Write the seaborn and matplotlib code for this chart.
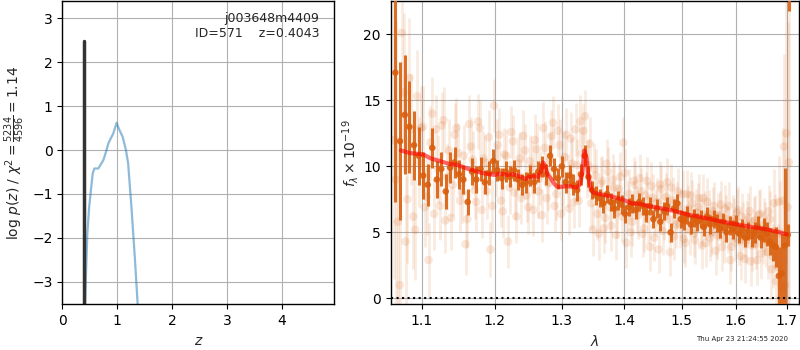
import matplotlib
matplotlib.use("Agg")
import matplotlib.pyplot as plt
import matplotlib.ticker as mticker
import seaborn as sns
import numpy as np
import pandas as pd

# ---------------- left panel data: log p(z) ----------------
z_pz = [0.414, 0.456, 0.49, 0.554, 0.585, 0.657, 0.748, 0.797, 0.839, 0.93,
        0.99, 1.04, 1.10, 1.16, 1.20, 1.26, 1.325, 1.374]
logp_pz = [-3.51, -1.9, -1.29, -0.53, -0.42, -0.42, -0.23, -0.04, 0.15, 0.38,
           0.62, 0.46, 0.30, 0.0, -0.3, -1.29, -2.5, -3.51]
z_best = [0.4043, 0.4043]
logp_best = [-3.6, 2.49]

# ---------------- right panel data: spectrum ----------------
lam_dark = [1.066, 1.072, 1.078, 1.084, 1.090, 1.096, 1.102, 1.108, 1.114, 1.120,
            1.126, 1.132, 1.138, 1.144, 1.150, 1.156, 1.162, 1.168, 1.174, 1.180,
            1.186, 1.192, 1.198, 1.204, 1.210, 1.216, 1.222, 1.228, 1.234, 1.240,
            1.246, 1.252, 1.258, 1.264, 1.270, 1.276, 1.282, 1.288, 1.294, 1.300,
            1.306, 1.312, 1.318, 1.324, 1.330, 1.336, 1.342, 1.348, 1.354, 1.360,
            1.366, 1.372, 1.378, 1.384, 1.390, 1.396, 1.402, 1.408, 1.414, 1.420,
            1.426, 1.432, 1.438, 1.444, 1.450, 1.456, 1.462, 1.468, 1.474, 1.480,
            1.486, 1.492, 1.498, 1.504, 1.510, 1.516, 1.522, 1.528, 1.534, 1.540,
            1.546, 1.552, 1.558, 1.564, 1.570, 1.576, 1.582, 1.588, 1.594, 1.600,
            1.606, 1.612, 1.618, 1.624, 1.630, 1.636, 1.642, 1.648, 1.654, 1.660,
            1.666, 1.672, 1.678, 1.684, 1.690, 1.696, 1.702, 1.704]
flux_dark = [17.1, 11.9, 13.9, 13.0, 11.6, 10.8, 9.3, 8.6, 11.4, 9.0,
             9.8, 8.1, 9.9, 10.3, 9.4, 9.0, 7.3, 9.6, 9.0, 9.8,
             8.8, 9.5, 10.4, 9.7, 9.1, 9.6, 9.2, 9.7, 9.0, 8.6,
             8.8, 9.3, 8.8, 9.6, 10.0, 9.4, 10.8, 9.8, 9.1, 10.0,
             8.8, 9.3, 8.6, 8.2, 9.4, 10.8, 9.2, 8.2, 7.8, 7.6,
             7.2, 7.9, 7.3, 6.8, 7.4, 7.1, 6.4, 6.9, 7.2, 6.7,
             7.3, 7.0, 6.5, 7.0, 6.0, 6.8, 5.8, 6.6, 7.0, 5.0,
             6.8, 7.2, 6.0, 5.9, 6.3, 5.6, 6.1, 5.8, 6.0, 5.4,
             6.2, 5.6, 6.0, 5.7, 5.3, 5.8, 5.0, 5.5, 5.2, 5.6,
             4.9, 5.3, 4.6, 5.1, 4.7, 5.0, 5.4, 4.6, 5.2, 4.9,
             4.3, 4.0, 3.9, 1.7, 1.9, 4.0, 4.8, 24.5]
err_dark = [9.8, 6.0, 4.5, 3.5, 2.6, 2.2, 1.8, 1.6, 1.5, 1.4,
            1.3, 1.3, 1.2, 1.2, 1.1, 1.1, 1.0, 1.0, 1.0, 0.9,
            0.9, 0.9, 0.9, 0.8, 0.8, 0.8, 0.8, 0.8, 0.8, 0.8,
            0.8, 0.8, 0.8, 0.8, 0.8, 0.8, 0.8, 0.8, 0.8, 0.8,
            0.8, 0.8, 0.8, 0.8, 0.8, 0.8, 0.8, 0.7, 0.7, 0.7,
            0.7, 0.7, 0.7, 0.7, 0.7, 0.7, 0.7, 0.7, 0.7, 0.7,
            0.7, 0.7, 0.7, 0.7, 0.7, 0.7, 0.7, 0.7, 0.7, 0.7,
            0.7, 0.7, 0.7, 0.7, 0.7, 0.7, 0.7, 0.7, 0.7, 0.7,
            0.7, 0.7, 0.7, 0.7, 0.7, 0.7, 0.7, 0.7, 0.7, 0.7,
            0.7, 0.7, 0.7, 0.7, 0.8, 0.8, 0.8, 0.8, 0.9, 0.9,
            1.0, 1.2, 1.5, 2.2, 3.0, 5.9, 0.8, 2.7]

lam_faint = [1.064, 1.069, 1.074, 1.079, 1.084, 1.089, 1.094, 1.099, 1.104, 1.109,
             1.114, 1.119, 1.124, 1.129, 1.134, 1.139, 1.144, 1.149, 1.154, 1.159,
             1.164, 1.169, 1.174, 1.179, 1.184, 1.189, 1.194, 1.199, 1.204, 1.209,
             1.214, 1.219, 1.224, 1.229, 1.234, 1.239, 1.244, 1.249, 1.254, 1.259,
             1.264, 1.269, 1.274, 1.279, 1.284, 1.289, 1.294, 1.299, 1.304, 1.309,
             1.314, 1.319, 1.324, 1.329, 1.334, 1.339, 1.344, 1.349, 1.354, 1.359,
             1.364, 1.369, 1.374, 1.379, 1.384, 1.389, 1.394, 1.399, 1.404, 1.409,
             1.414, 1.419, 1.424, 1.429, 1.434, 1.439, 1.444, 1.449, 1.454, 1.459,
             1.464, 1.469, 1.474, 1.479, 1.484, 1.489, 1.494, 1.499, 1.504, 1.509,
             1.514, 1.519, 1.524, 1.529, 1.534, 1.539, 1.544, 1.549, 1.554, 1.559,
             1.564, 1.569, 1.574, 1.579, 1.584, 1.589, 1.594, 1.599, 1.604, 1.609,
             1.614, 1.619, 1.624, 1.629, 1.634, 1.639, 1.644, 1.649, 1.654, 1.659,
             1.664, 1.669, 1.674, 1.679, 1.684, 1.689, 1.694, 1.699, 1.704]
flux_faint = [12.0, 5.8, 20.1, 4.3, 16.7, 6.2, 15.3, 12.9, 6.9, 2.9,
              14.0, 12.8, 7.0, 13.5, 9.2, 6.1, 12.4, 11.0, 8.0, 4.1,
              13.2, 10.5, 7.3, 12.9, 10.6, 8.1, 3.7, 14.6, 11.6, 7.4,
              10.9, 4.3, 12.6, 8.0, 10.2, 7.6, 11.2, 6.9, 9.9, 12.0,
              8.1, 6.3, 11.4, 8.7, 12.3, 7.0, 12.7, 6.4, 10.7, 8.9,
              12.1, 7.3, 10.1, 13.4, 12.7, 9.6, 11.7, 5.2, 9.3, 4.9,
              8.9, 6.1, 9.6, 5.5, 8.4, 6.5, 9.2, 11.8, 4.2, 7.9,
              5.8, 8.6, 6.3, 8.1, 5.3, 8.9, 3.9, 7.6, 6.5, 3.7,
              8.3, 6.2, 8.8, 3.5, 7.4, 5.6, 8.1, 6.4, 4.5, 7.9,
              5.1, 7.2, 4.4, 6.9, 5.7, 7.6, 4.2, 6.4, 5.0, 7.0,
              4.8, 6.3, 3.9, 6.8, 5.2, 2.9, 6.0, 4.6, 6.7, 3.2,
              5.5, 4.4, 6.1, 2.8, 5.8, 4.1, 6.3, 3.4, 5.6, 4.4,
              6.6, 2.2, 7.2, 1.3, 7.3, 0.8, 11.5, 12.5, 10.3]
err_faint = [10.5, 6.5, 8.0, 5.0, 4.5, 4.0, 3.5, 3.2, 3.0, 2.8,
             2.8, 2.6, 2.6, 2.5, 2.5, 2.4, 2.4, 2.3, 2.3, 2.3,
             2.2, 2.2, 2.2, 2.1, 2.1, 2.1, 2.1, 2.0, 2.0, 2.0,
             2.0, 2.0, 2.0, 2.0, 2.0, 2.0, 2.0, 2.0, 2.0, 2.0,
             2.0, 2.0, 2.0, 2.0, 2.0, 2.0, 2.0, 2.0, 2.0, 2.0,
             2.0, 2.0, 2.0, 2.0, 2.0, 2.0, 2.0, 2.0, 2.0, 2.0,
             1.9, 1.9, 1.9, 1.9, 1.9, 1.9, 1.9, 1.9, 1.9, 1.9,
             1.8, 1.8, 1.8, 1.8, 1.8, 1.8, 1.8, 1.8, 1.8, 1.8,
             1.8, 1.8, 1.8, 1.8, 1.8, 1.8, 1.8, 1.8, 1.8, 1.8,
             1.8, 1.8, 1.8, 1.8, 1.8, 1.8, 1.8, 1.8, 1.8, 1.8,
             1.8, 1.8, 1.8, 1.8, 1.8, 1.8, 1.8, 1.8, 1.8, 1.8,
             1.8, 1.8, 1.9, 1.9, 1.9, 1.9, 1.9, 1.9, 2.0, 2.0,
             2.0, 2.3, 2.6, 3.0, 3.5, 4.5, 7.0, 10.0, 12.0]

lam_faint2 = [1.0665, 1.0715, 1.0765, 1.0815, 1.0865, 1.0915, 1.0965, 1.1015, 1.1065, 1.1115,
              1.1165, 1.1215, 1.1265, 1.1315, 1.1365, 1.1415, 1.1465, 1.1515, 1.1565, 1.1615,
              1.1665, 1.1715, 1.1765, 1.1815, 1.1865, 1.1915, 1.1965, 1.2015, 1.2065, 1.2115,
              1.2165, 1.2215, 1.2265, 1.2315, 1.2365, 1.2415, 1.2465, 1.2515, 1.2565, 1.2615,
              1.2665, 1.2715, 1.2765, 1.2815, 1.2865, 1.2915, 1.2965, 1.3015, 1.3065, 1.3115,
              1.3165, 1.3215, 1.3265, 1.3315, 1.3365, 1.3415, 1.3465, 1.3515, 1.3565, 1.3615,
              1.3665, 1.3715, 1.3765, 1.3815, 1.3865, 1.3915, 1.3965, 1.4015, 1.4065, 1.4115,
              1.4165, 1.4215, 1.4265, 1.4315, 1.4365, 1.4415, 1.4465, 1.4515, 1.4565, 1.4615,
              1.4665, 1.4715, 1.4765, 1.4815, 1.4865, 1.4915, 1.4965, 1.5015, 1.5065, 1.5115,
              1.5165, 1.5215, 1.5265, 1.5315, 1.5365, 1.5415, 1.5465, 1.5515, 1.5565, 1.5615,
              1.5665, 1.5715, 1.5765, 1.5815, 1.5865, 1.5915, 1.5965, 1.6015, 1.6065, 1.6115,
              1.6165, 1.6215, 1.6265, 1.6315, 1.6365, 1.6415, 1.6465, 1.6515, 1.6565, 1.6615,
              1.6665, 1.6715, 1.6765, 1.6815, 1.6865, 1.6915, 1.6965, 1.7015]
flux_faint2 = [9.0, 1.0, 15.6, 7.5, 12.8, 5.2, 10.3, 13.0, 7.7, 11.8,
               6.4, 9.8, 13.1, 5.9, 11.2, 8.6, 12.9, 7.4, 10.8, 6.0,
               11.5, 8.2, 13.4, 6.7, 10.3, 12.2, 7.0, 9.7, 12.4, 6.6,
               10.8, 8.4, 11.9, 6.2, 10.6, 12.3, 7.8, 10.4, 6.7, 11.3,
               9.1, 12.9, 7.6, 10.5, 13.3, 7.9, 11.6, 8.6, 12.4, 6.8,
               10.2, 12.8, 7.4, 11.0, 13.8, 10.1, 7.2, 9.8, 6.4, 8.7,
               5.3, 10.2, 6.9, 9.0, 4.8, 8.3, 6.2, 9.5, 7.0, 5.0,
               8.9, 6.7, 9.1, 4.9, 7.8, 6.0, 8.5, 4.6, 7.3, 8.6,
               5.1, 7.7, 6.0, 8.4, 4.7, 7.0, 5.6, 7.9, 4.2, 6.8,
               7.8, 4.9, 6.5, 7.6, 4.0, 6.3, 7.3, 4.6, 6.6, 3.6,
               6.2, 7.1, 4.5, 6.0, 7.0, 3.9, 5.8, 6.5, 4.3, 6.2,
               3.0, 5.6, 6.6, 4.0, 5.9, 2.9, 6.4, 4.6, 5.3, 3.5,
               6.0, 3.2, 5.1, 2.4, 4.9, 7.4, 1.0, 6.9]
err_faint2 = [12.0, 7.5, 6.0, 4.8, 4.2, 3.8, 3.4, 3.1, 2.9, 2.8,
              2.7, 2.6, 2.5, 2.5, 2.4, 2.4, 2.3, 2.3, 2.3, 2.2,
              2.2, 2.2, 2.1, 2.1, 2.1, 2.1, 2.0, 2.0, 2.0, 2.0,
              2.0, 2.0, 2.0, 2.0, 2.0, 2.0, 2.0, 2.0, 2.0, 2.0,
              2.0, 2.0, 2.0, 2.0, 2.0, 2.0, 2.0, 2.0, 2.0, 2.0,
              2.0, 2.0, 2.0, 2.0, 2.0, 2.0, 2.0, 2.0, 2.0, 2.0,
              1.9, 1.9, 1.9, 1.9, 1.9, 1.9, 1.9, 1.9, 1.9, 1.9,
              1.8, 1.8, 1.8, 1.8, 1.8, 1.8, 1.8, 1.8, 1.8, 1.8,
              1.8, 1.8, 1.8, 1.8, 1.8, 1.8, 1.8, 1.8, 1.8, 1.8,
              1.8, 1.8, 1.8, 1.8, 1.8, 1.8, 1.8, 1.8, 1.8, 1.8,
              1.8, 1.8, 1.8, 1.8, 1.8, 1.8, 1.8, 1.8, 1.8, 1.8,
              1.8, 1.8, 1.9, 1.9, 1.9, 1.9, 1.9, 2.0, 2.0, 2.0,
              2.1, 2.4, 2.8, 3.2, 4.0, 5.5, 8.0, 14.0]

lam_model = [1.073, 1.085, 1.095, 1.102, 1.112, 1.124, 1.136, 1.148, 1.160, 1.170,
             1.182, 1.193, 1.200, 1.208, 1.218, 1.225, 1.232, 1.240, 1.245, 1.250,
             1.258, 1.264, 1.268, 1.271, 1.274, 1.278, 1.283, 1.288, 1.293, 1.300,
             1.308, 1.316, 1.323, 1.328, 1.332, 1.3355, 1.339, 1.342, 1.346, 1.350,
             1.360, 1.375, 1.390, 1.400, 1.412, 1.427, 1.440, 1.460, 1.485, 1.510,
             1.545, 1.575, 1.608, 1.635, 1.661, 1.680, 1.700]
flux_model = [11.2, 11.0, 10.95, 10.9, 10.6, 10.4, 10.2, 10.1, 9.85, 9.7,
              9.5, 9.4, 9.35, 9.45, 9.35, 9.4, 9.3, 9.15, 9.05, 9.2,
              9.25, 9.2, 9.6, 10.3, 10.1, 9.4, 9.1, 8.7, 8.45, 8.45,
              8.5, 8.45, 8.4, 8.6, 9.5, 11.2, 10.6, 9.2, 8.3, 8.0,
              7.9, 7.75, 7.6, 7.45, 7.2, 7.15, 7.0, 6.85, 6.64, 6.35,
              6.06, 5.8, 5.55, 5.38, 5.22, 5.05, 4.85]

xticks_right = [1.1, 1.2, 1.3, 1.4, 1.5, 1.6, 1.7]
xticklabels_right = ["1.1", "1.2", "1.3", "1.4", "1.5", "1.6", "1.7"]

# ---------------- figure ----------------
sns.set_style("white")
plt.rcParams["font.family"] = ["DejaVu Sans"]
plt.rcParams["mathtext.fontset"] = "dejavusans"

fig = plt.figure(figsize=(8, 3.5), dpi=100)
axL = fig.add_axes([0.0779, 0.1306, 0.3400, 0.8664])
axR = fig.add_axes([0.4884, 0.1306, 0.5108, 0.8664])

for ax in (axL, axR):
    for s in ax.spines.values():
        s.set_color("black")
        s.set_linewidth(1.0)
    ax.tick_params(direction="out", length=3.5, width=0.8, colors="black",
                   labelsize=10, bottom=True, left=True)
    ax.grid(True, color="#b0b0b0", linewidth=0.8)
    ax.set_axisbelow(True)

# left panel
df_pz = pd.DataFrame({"z": z_pz, "logp": logp_pz})
sns.lineplot(data=df_pz, x="z", y="logp", ax=axL, color="tab:blue", alpha=0.5,
             linewidth=1.6, sort=False, estimator=None)
df_best = pd.DataFrame({"z": z_best, "logp": logp_best})
sns.lineplot(data=df_best, x="z", y="logp", ax=axL, color="0.2",
             linewidth=2.5, sort=False, estimator=None)
axL.set_xlim(0, 4.96)
axL.set_ylim(-3.51, 3.39)
axL.set_xticks([0, 1, 2, 3, 4])
axL.set_yticks([-3, -2, -1, 0, 1, 2, 3])
axL.set_xlabel(r"$z$", fontsize=10)
axL.set_ylabel(r"$\log\,p(z)$ / $\chi^2=\frac{5234}{4596}=1.14$", fontsize=10)
axL.text(0.945, 0.965, "j003648m4409\nID=571    z=0.4043", transform=axL.transAxes,
         ha="right", va="top", fontsize=9)

# right panel
orange = "#d95f0e"
axR.set_xscale("log")
for lam_f, flux_f, err_f in ((lam_faint, flux_faint, err_faint),
                             (lam_faint2, flux_faint2, err_faint2)):
    axR.errorbar(lam_f, flux_f, yerr=err_f, fmt="none", ecolor=orange,
                 alpha=0.12, elinewidth=2.0, zorder=2)
    df_f = pd.DataFrame({"lam": lam_f, "flux": flux_f})
    sns.scatterplot(data=df_f, x="lam", y="flux", ax=axR, color=orange, alpha=0.15,
                    s=38, edgecolor="none", zorder=2)
axR.errorbar(lam_dark, flux_dark, yerr=err_dark, fmt="none", ecolor=orange,
             alpha=0.9, elinewidth=2.2, zorder=3)
df_dark = pd.DataFrame({"lam": lam_dark, "flux": flux_dark})
sns.scatterplot(data=df_dark, x="lam", y="flux", ax=axR, color=orange, alpha=0.9,
                s=22, edgecolor="none", zorder=3)
df_model = pd.DataFrame({"lam": lam_model, "flux": flux_model})
sns.lineplot(data=df_model, x="lam", y="flux", ax=axR, color="red", alpha=0.6,
             linewidth=3, sort=False, estimator=None, zorder=4)
axR.axhline(0, color="black", linestyle=":", linewidth=1.5, zorder=5)

axR.set_xlim(1.0601, 1.7257)
axR.set_ylim(-0.45, 22.52)
axR.xaxis.set_major_locator(mticker.FixedLocator(xticks_right))
axR.xaxis.set_major_formatter(mticker.FixedFormatter(xticklabels_right))
axR.xaxis.set_minor_locator(mticker.NullLocator())
axR.set_yticks([0, 5, 10, 15, 20])
axR.set_xlabel(r"$\lambda$", fontsize=10)
axR.set_ylabel(r"$f_\lambda\times10^{-19}$", fontsize=10, labelpad=2)

fig.text(0.985, 0.022, "Thu Apr 23 21:24:55 2020", ha="right", va="bottom", fontsize=5)

fig.savefig("out.png", dpi=100)
